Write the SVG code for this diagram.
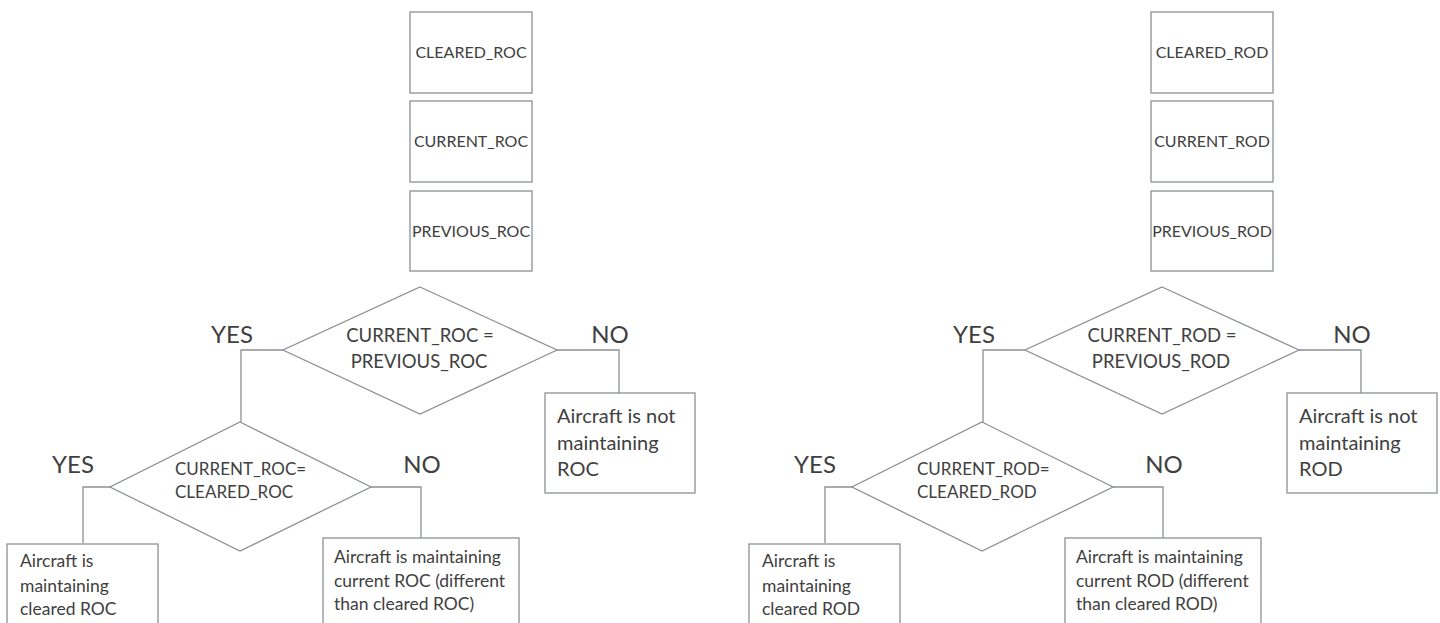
<svg xmlns="http://www.w3.org/2000/svg" width="1440" height="623" viewBox="0 0 1440 623">
  <style>
    .box { fill: #ffffff; stroke: #8c9196; stroke-width: 1.3; }
    .link { fill: none; stroke: #8c9196; stroke-width: 1.3; }
    .t { font-family: Lato, "Liberation Sans", sans-serif; fill: #404040; }
    .var { font-size: 16px; text-anchor: middle; }
    .cond { font-size: 17px; }
    .condl { font-size: 18.5px; text-anchor: middle; }
    .ans { font-size: 24px; text-anchor: middle; }
    .res { font-size: 17.5px; }
    .resl { font-size: 20px; }
  </style>
  <rect width="1440" height="623" fill="#ffffff"/>

  <!-- Rate of climb check -->
  <g id="roc">
    <g id="connectors-roc">
      <polyline class="link" points="283,350 241,350 241,422"/>
      <polyline class="link" points="557,350 619,350 619,393"/>
      <polyline class="link" points="110,487 83,487 83,543"/>
      <polyline class="link" points="371,487 421,487 421,538"/>
    </g>
    <g id="cleared-roc">
      <rect class="box" x="410" y="12" width="122" height="81"/>
      <text class="t var" x="471" y="58">CLEARED_ROC</text>
    </g>
    <g id="current-roc">
      <rect class="box" x="410" y="101" width="122" height="81"/>
      <text class="t var" x="471" y="147">CURRENT_ROC</text>
    </g>
    <g id="previous-roc">
      <rect class="box" x="410" y="191" width="122" height="80"/>
      <text class="t var" x="471" y="237">PREVIOUS_ROC</text>
    </g>
    <g id="roc-steady">
      <polygon class="box" points="420,287 557,350 420,414 283,350"/>
      <text class="t condl" x="420" y="342">CURRENT_ROC =</text>
      <text class="t condl" x="419" y="368">PREVIOUS_ROC</text>
      <text class="t ans" x="232" y="343">YES</text>
      <text class="t ans" x="610" y="343">NO</text>
    </g>
    <g id="roc-cleared">
      <polygon class="box" points="240,422 371,487 240,551 110,487"/>
      <text class="t cond" x="175" y="475">CURRENT_ROC=</text>
      <text class="t cond" x="175" y="498">CLEARED_ROC</text>
      <text class="t ans" x="73" y="473">YES</text>
      <text class="t ans" x="422" y="473">NO</text>
    </g>
    <g id="roc-not-maintained">
      <rect class="box" x="545" y="393" width="150" height="100"/>
      <text class="t resl" x="557" y="423">Aircraft is not</text>
      <text class="t resl" x="557" y="450">maintaining</text>
      <text class="t resl" x="557" y="476">ROC</text>
    </g>
    <g id="roc-maintained-cleared">
      <rect class="box" x="7" y="544" width="151" height="90"/>
      <text class="t res" x="20" y="567">Aircraft is</text>
      <text class="t res" x="20" y="592">maintaining</text>
      <text class="t res" x="20" y="615">cleared ROC</text>
    </g>
    <g id="roc-maintained-current">
      <rect class="box" x="323" y="538" width="196" height="95"/>
      <text class="t res" x="334" y="563">Aircraft is maintaining</text>
      <text class="t res" x="334" y="587">current  ROC (different</text>
      <text class="t res" x="334" y="610">than cleared ROC)</text>
    </g>
  </g>

  <!-- Rate of descent check -->
  <g id="rod" transform="translate(742,0)">
    <g id="connectors-rod">
      <polyline class="link" points="283,350 241,350 241,422"/>
      <polyline class="link" points="557,350 619,350 619,393"/>
      <polyline class="link" points="110,487 83,487 83,543"/>
      <polyline class="link" points="371,487 421,487 421,538"/>
    </g>
    <g id="cleared-rod">
      <rect class="box" x="409" y="12" width="122" height="81"/>
      <text class="t var" x="470" y="58">CLEARED_ROD</text>
    </g>
    <g id="current-rod">
      <rect class="box" x="409" y="101" width="122" height="81"/>
      <text class="t var" x="470" y="147">CURRENT_ROD</text>
    </g>
    <g id="previous-rod">
      <rect class="box" x="409" y="191" width="122" height="80"/>
      <text class="t var" x="470" y="237">PREVIOUS_ROD</text>
    </g>
    <g id="rod-steady">
      <polygon class="box" points="420,287 557,350 420,414 283,350"/>
      <text class="t condl" x="420" y="342">CURRENT_ROD =</text>
      <text class="t condl" x="419" y="368">PREVIOUS_ROD</text>
      <text class="t ans" x="232" y="343">YES</text>
      <text class="t ans" x="610" y="343">NO</text>
    </g>
    <g id="rod-cleared">
      <polygon class="box" points="240,422 371,487 240,551 110,487"/>
      <text class="t cond" x="175" y="475">CURRENT_ROD=</text>
      <text class="t cond" x="175" y="498">CLEARED_ROD</text>
      <text class="t ans" x="73" y="473">YES</text>
      <text class="t ans" x="422" y="473">NO</text>
    </g>
    <g id="rod-not-maintained">
      <rect class="box" x="545" y="393" width="150" height="100"/>
      <text class="t resl" x="557" y="423">Aircraft is not</text>
      <text class="t resl" x="557" y="450">maintaining</text>
      <text class="t resl" x="557" y="476">ROD</text>
    </g>
    <g id="rod-maintained-cleared">
      <rect class="box" x="7" y="544" width="151" height="90"/>
      <text class="t res" x="20" y="567">Aircraft is</text>
      <text class="t res" x="20" y="592">maintaining</text>
      <text class="t res" x="20" y="615">cleared ROD</text>
    </g>
    <g id="rod-maintained-current">
      <rect class="box" x="323" y="538" width="196" height="95"/>
      <text class="t res" x="334" y="563">Aircraft is maintaining</text>
      <text class="t res" x="334" y="587">current  ROD (different</text>
      <text class="t res" x="334" y="610">than cleared ROD)</text>
    </g>
  </g>
</svg>
